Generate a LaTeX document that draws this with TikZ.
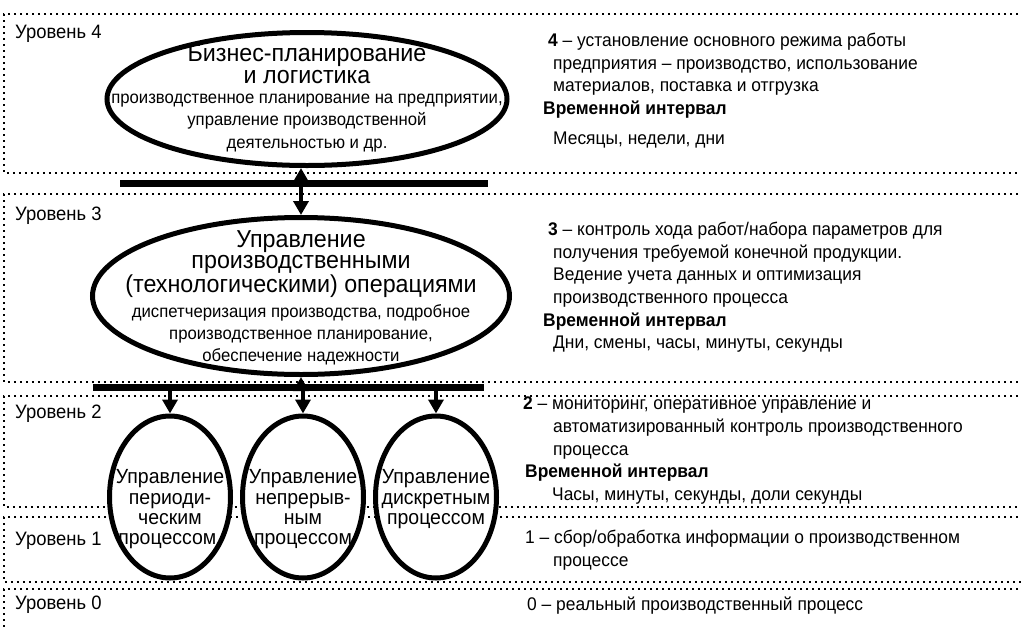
\documentclass[tikz,border=0pt]{standalone}
\usepackage{fontspec}
\setmainfont{Liberation Sans}[FakeStretch=0.95]
\usetikzlibrary{arrows.meta,shapes.geometric}

\begin{document}
\begin{tikzpicture}
[x=1pt, y=-1pt, font=\fontsize{18.3}{22.6}\selectfont]
\tikzstyle{level}=[line width=1.8pt, dash pattern=on 2pt off 4pt]
\tikzstyle{oval}=[ellipse, draw, line width=5pt, fill=white, inner sep=0pt]
\tikzstyle{bus}=[line width=7pt]
\tikzstyle{link}=[line width=4pt, -{Triangle[width=15pt,length=14pt]}]
\tikzstyle{lbl}=[anchor=west, inner sep=0pt, font=\fontsize{19.4}{22}\selectfont]
\tikzstyle{desc}=[anchor=north west, align=left, inner sep=0pt]
\tikzstyle{title}=[anchor=north, align=center, inner sep=0pt, font=\fontsize{24.5}{21.5}\selectfont]
\tikzstyle{sub}=[anchor=north, align=center, inner sep=0pt, font=\fontsize{17.6}{22.3}\selectfont]
\tikzstyle{proc}=[anchor=north, align=center, inner sep=0pt, font=\fontsize{20.5}{20.3}\selectfont]

\useasboundingbox (0,0) rectangle (1021,630);
\clip (0,0) rectangle (1021,630);

% levels
\foreach \t/\b in {14/173, 194/382, 396/507, 517/582, 589/640}
  \draw[level] (1030,\t) -| (4,\b) -- (1030,\b);

\node[lbl] (U4) at (15,34)  {Уровень 4};
\node[lbl] (U3) at (15,216) {Уровень 3};
\node[lbl] (U2) at (15,414) {Уровень 2};
\node[lbl] (U1) at (15,541) {Уровень 1};
\node[lbl] (U0) at (15,605) {Уровень 0};

% ovals
\node[oval, minimum width=400pt, minimum height=133pt] (BP) at (307,99)  {};
\node[oval, minimum width=417pt, minimum height=157pt] (MO) at (301,296) {};
\node[oval, minimum width=121pt, minimum height=162pt] (PP) at (170,497) {};
\node[oval, minimum width=121pt, minimum height=162pt] (NP) at (303,497) {};
\node[oval, minimum width=121pt, minimum height=162pt] (DP) at (436,497) {};

\node[title] (BPt) at (307,44.5)  {Бизнес-планирование\\и логистика};
\node[sub]   (BPs) at (307,94) {производственное планирование на предприятии,\\управление производственной\\деятельностью и др.};
\node[title] (MOt) at (301,230) {Управление\\производственными\\(технологическими) операциями};
\node[sub]   (MOs) at (301,304) {диспетчеризация производства, подробное\\производственное планирование,\\обеспечение надежности};
\node[proc]  (PPt) at (170,469.5) {Управление\\периоди-\\ческим\\процессом,};
\node[proc]  (NPt) at (303,469.5) {Управление\\непрерыв-\\ным\\процессом};
\node[proc]  (DPt) at (436,469.5) {Управление\\дискретным\\процессом};

% buses and arrows
\coordinate (b1l) at (120,183);
\coordinate (b1r) at (488,183);
\coordinate (b2l) at (93,387);
\coordinate (b2r) at (484,387);
\draw[link, {Triangle[width=15pt,length=14pt]}-{Triangle[width=15pt,length=14pt]}] (MO.north) -- (MO.north |- BP.south);
\draw[link] (MO.south |- b2l) -- (MO.south);
\foreach \p in {PP,NP,DP}
  \draw[link] (\p.north |- b2l) -- (\p.north);
\draw[bus] (b1l) -- (b1r);
\draw[bus] (b2l) -- (b2r);

% descriptions
\node[desc] (R4) at (543,33) {\hspace*{5pt}\textbf{4} – установление основного режима работы\\
  \hspace*{10pt}предприятия – производство, использование\\
  \hspace*{10pt}материалов, поставка и отгрузка\\
  \textbf{Временной интервал}\\[7pt]
  \hspace*{10pt}Месяцы, недели, дни};
\node[desc] (R3) at (543,222) {\hspace*{5pt}\textbf{3} – контроль хода работ/набора параметров для\\
  \hspace*{10pt}получения требуемой конечной продукции.\\
  \hspace*{10pt}Ведение учета данных и оптимизация\\
  \hspace*{10pt}производственного процесса\\
  \textbf{Временной интервал}\\
  \hspace*{10pt}Дни, смены, часы, минуты, секунды};
\node[desc] (R2) at (523,397) {\textbf{2} – мониторинг, оперативное управление и\\
  \hspace*{30pt}автоматизированный контроль производственного\\
  \hspace*{30pt}процесса\\
  \hspace*{2pt}\textbf{Временной интервал}\\
  \hspace*{29pt}Часы, минуты, секунды, доли секунды};
\node[desc] (R1) at (525,530) {1 – сбор/обработка информации о производственном\\
  \hspace*{28pt}процессе};
\node[desc] (R0) at (527,597) {0 – реальный производственный процесс};
\end{tikzpicture}
\end{document}
